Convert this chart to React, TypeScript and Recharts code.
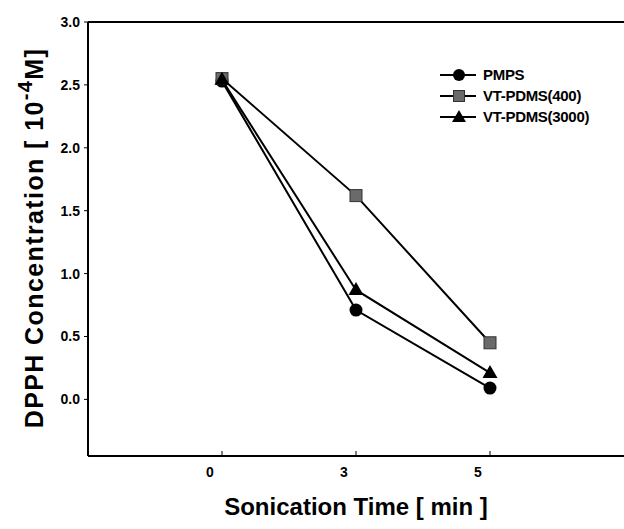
import { LineChart, Line, XAxis, YAxis, ReferenceLine, Label } from 'recharts';

const times = ['0', '3', '5'];
const pmps = [2.53, 0.71, 0.09];
const vt400 = [2.55, 1.62, 0.45];
const vt3000 = [2.54, 0.87, 0.21];
const yTicks = [0, 0.5, 1.0, 1.5, 2.0, 2.5, 3.0];

const FONT = "'Liberation Sans', Arial, sans-serif";

const data = times.map((t, i) => ({
  time: t,
  pmps: pmps[i],
  vt400: vt400[i],
  vt3000: vt3000[i],
}));

function CircleDot(props: any) {
  const { cx, cy } = props;
  if (cx == null || cy == null) return null;
  return <circle cx={cx} cy={cy} r={6.5} fill="#000" />;
}

function SquareDot(props: any) {
  const { cx, cy } = props;
  if (cx == null || cy == null) return null;
  return <rect x={cx - 6} y={cy - 6} width={12} height={12} fill="#6a6a6a" stroke="#333" strokeWidth={1} />;
}

function TriangleDot(props: any) {
  const { cx, cy } = props;
  if (cx == null || cy == null) return null;
  return <polygon points={`${cx},${cy - 8} ${cx + 7.5},${cy + 5} ${cx - 7.5},${cy + 5}`} fill="#000" />;
}

function XTick(props: any) {
  const { x, y, payload } = props;
  return (
    <text x={x - 12} y={y + 24} textAnchor="middle" fontFamily={FONT} fontWeight="bold" fontSize={14} fill="#000">
      {payload.value}
    </text>
  );
}

function YTick(props: any) {
  const { x, y, payload } = props;
  return (
    <text x={x} y={y + 5} textAnchor="end" fontFamily={FONT} fontWeight="bold" fontSize={14} fill="#000">
      {payload.value.toFixed(1)}
    </text>
  );
}

function YTitle(props: any) {
  const { viewBox } = props;
  const cx = viewBox.x + 34;
  const cy = viewBox.y + viewBox.height / 2 - 1;
  return (
    <text
      x={cx}
      y={cy}
      transform={`rotate(-90 ${cx} ${cy})`}
      textAnchor="middle"
      dominantBaseline="central"
      fontFamily={FONT}
      fontWeight="bold"
      fontSize={25}
      letterSpacing={1.4}
      fill="#000"
    >
      DPPH Concentration [ 10
      <tspan fontSize={20} dy={-9}>-4</tspan>
      <tspan dy={9}>M]</tspan>
    </text>
  );
}

const legendItems = [
  { name: 'PMPS', icon: 'circle' },
  { name: 'VT-PDMS(400)', icon: 'square' },
  { name: 'VT-PDMS(3000)', icon: 'triangle' },
];

function LegendBox() {
  return (
    <div
      style={{
        position: 'absolute',
        left: 440,
        top: 64,
        fontFamily: FONT,
        fontWeight: 'bold',
        fontSize: 15,
        color: '#000',
        letterSpacing: '-0.3px',
      }}
    >
      {legendItems.map((it) => (
        <div key={it.name} style={{ display: 'flex', alignItems: 'center', height: 21 }}>
          <svg width={36} height={18} style={{ marginRight: 7 }}>
            <line x1={0} y1={9} x2={36} y2={9} stroke="#000" strokeWidth={2} />
            {it.icon === 'circle' && <circle cx={19} cy={9} r={6} fill="#000" />}
            {it.icon === 'square' && <rect x={13.5} y={3.5} width={11} height={11} fill="#6a6a6a" stroke="#333" />}
            {it.icon === 'triangle' && <polygon points="19,2 26,14 12,14" fill="#000" />}
          </svg>
          <span>{it.name}</span>
        </div>
      ))}
    </div>
  );
}

export default function App() {
  return (
    <div style={{ position: 'absolute', left: 0, top: 0, width: 624, height: 529, background: '#fff' }}>
      <LineChart width={624} height={529} data={data} margin={{ top: 22, right: 0, bottom: 43, left: 0 }}>
        <XAxis
          dataKey="time"
          type="category"
          padding={{ left: 134, right: 134 }}
          axisLine={{ stroke: '#000', strokeWidth: 2 }}
          tickLine={{ stroke: '#000', strokeWidth: 1 }}
          tickSize={-5}
          tick={<XTick />}
          height={30}
        >
          <Label
            value="Sonication Time [ min ]"
            position="bottom"
            offset={12}
            style={{ fontFamily: FONT, fontWeight: 'bold', fontSize: 24, fill: '#000' }}
          />
        </XAxis>
        <YAxis
          type="number"
          domain={[-0.45, 3.0]}
          ticks={yTicks}
          allowDataOverflow
          width={88}
          axisLine={{ stroke: '#000', strokeWidth: 2 }}
          tickLine={{ stroke: '#000', strokeWidth: 1 }}
          tickSize={4}
          tickMargin={4}
          tick={<YTick />}
          label={<YTitle />}
        />
        <ReferenceLine y={3.0} stroke="#000" strokeWidth={2} />
        <Line dataKey="pmps" name="PMPS" stroke="#000" strokeWidth={2} dot={<CircleDot />} isAnimationActive={false} />
        <Line dataKey="vt400" name="VT-PDMS(400)" stroke="#000" strokeWidth={2} dot={<SquareDot />} isAnimationActive={false} />
        <Line dataKey="vt3000" name="VT-PDMS(3000)" stroke="#000" strokeWidth={2} dot={<TriangleDot />} isAnimationActive={false} />
      </LineChart>
      <LegendBox />
    </div>
  );
}
